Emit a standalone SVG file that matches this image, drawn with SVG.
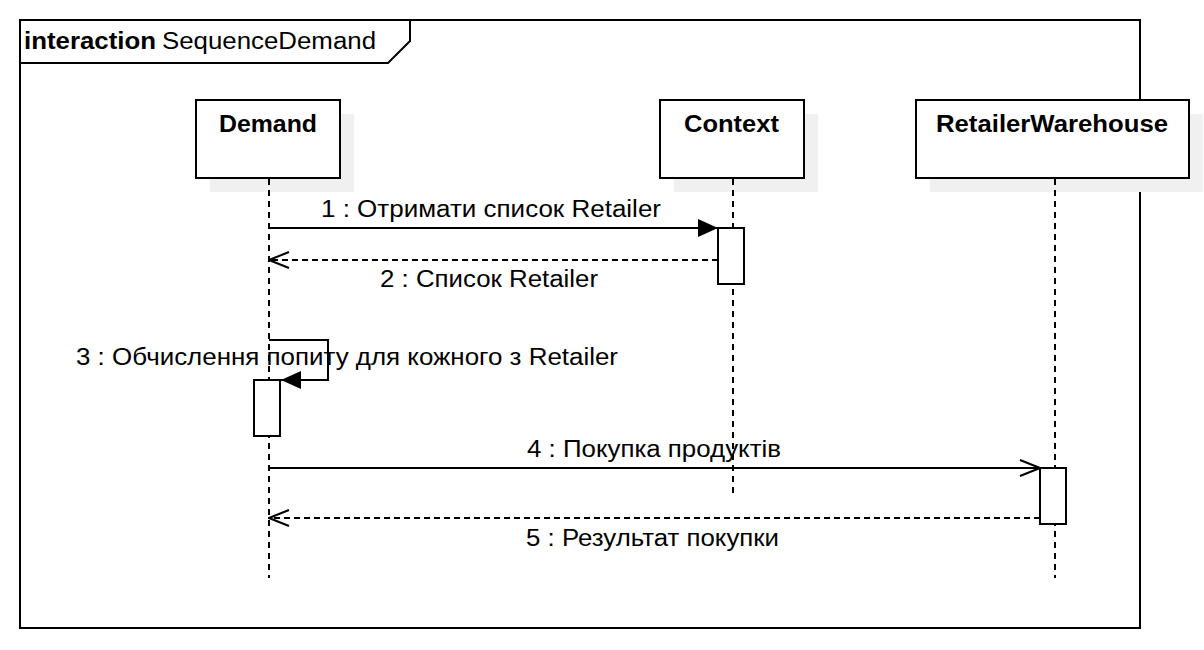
<svg xmlns="http://www.w3.org/2000/svg" width="1204" height="650" viewBox="0 0 1204 650">
  <defs>
    <style>
      text { font-family: "Liberation Sans", Arial, sans-serif; font-size: 23px; fill: #000; }
      .b { font-weight: bold; }
      .box { fill: #fff; stroke: #000; stroke-width: 2; }
      .shadow { fill: #f0f0f0; stroke: none; }
      .life { stroke: #000; stroke-width: 2; stroke-dasharray: 6 5; fill: none; }
      .msg { stroke: #000; stroke-width: 2; fill: none; }
      .ret { stroke: #000; stroke-width: 2; stroke-dasharray: 6 4; fill: none; }
    </style>
    <marker id="filled" viewBox="0 0 20 18" refX="20" refY="9" markerWidth="20" markerHeight="18" markerUnits="userSpaceOnUse" orient="auto">
      <path d="M0,0 L20,9 L0,18 Z" fill="#000"/>
    </marker>
    <marker id="open" viewBox="0 0 22 18" refX="21" refY="9" markerWidth="22" markerHeight="18" markerUnits="userSpaceOnUse" orient="auto">
      <path d="M1,1 L21,9 L1,17" fill="none" stroke="#000" stroke-width="2"/>
    </marker>
  </defs>
  <rect width="1204" height="650" fill="#fff"/>

  <g id="frame">
    <rect x="20" y="20" width="1120" height="608" fill="none" stroke="#000" stroke-width="2"/>
    <path d="M20,63 L388,63 L410,41 L410,20" fill="none" stroke="#000" stroke-width="2"/>
    <text x="24" y="49" class="b" textLength="132" lengthAdjust="spacingAndGlyphs">interaction</text>
    <text x="162" y="49" textLength="214" lengthAdjust="spacingAndGlyphs">SequenceDemand</text>
  </g>

  <g id="node-demand">
    <rect class="shadow" x="210" y="114" width="144" height="78"/>
    <rect class="box" x="196" y="100" width="144" height="78"/>
    <text x="219" y="132" class="b" textLength="98" lengthAdjust="spacingAndGlyphs">Demand</text>
  </g>
  <g id="node-context">
    <rect class="shadow" x="674" y="114" width="144" height="78"/>
    <rect class="box" x="660" y="100" width="144" height="78"/>
    <text x="684" y="132" class="b" textLength="95" lengthAdjust="spacingAndGlyphs">Context</text>
  </g>
  <g id="node-retailerwarehouse">
    <rect class="shadow" x="930" y="114" width="273" height="78"/>
    <rect class="box" x="916" y="100" width="273" height="78"/>
    <text x="936" y="132" class="b" textLength="232" lengthAdjust="spacingAndGlyphs">RetailerWarehouse</text>
  </g>

  <g id="lifelines">
    <line class="life" x1="269" y1="179" x2="269" y2="578"/>
    <line class="life" x1="733" y1="179" x2="733" y2="498"/>
    <line class="life" x1="1055" y1="179" x2="1055" y2="578"/>
  </g>

  <g id="activations">
    <rect class="box" x="718" y="228" width="26" height="56"/>
    <rect class="box" x="254" y="380" width="26" height="56"/>
    <rect class="box" x="1040" y="468" width="26" height="56"/>
  </g>

  <g id="connectors">
    <line class="msg" x1="269" y1="228" x2="718" y2="228" marker-end="url(#filled)"/>
    <line class="ret" x1="718" y1="260" x2="269" y2="260" marker-end="url(#open)"/>
    <path class="msg" d="M269,340 L328,340 L328,380 L281,380" marker-end="url(#filled)"/>
    <line class="msg" x1="269" y1="468" x2="1040" y2="468" marker-end="url(#open)"/>
    <line class="ret" x1="1040" y1="518" x2="269" y2="518" marker-end="url(#open)"/>
  </g>

  <g id="labels">
    <text x="321" y="217" textLength="340" lengthAdjust="spacingAndGlyphs">1 : Отримати список Retailer</text>
    <text x="380" y="287" textLength="218" lengthAdjust="spacingAndGlyphs">2 : Список Retailer</text>
    <text x="76" y="365" textLength="542" lengthAdjust="spacingAndGlyphs">3 : Обчислення попиту для кожного з Retailer</text>
    <text x="527" y="457" textLength="254" lengthAdjust="spacingAndGlyphs">4 : Покупка продуктів</text>
    <text x="526" y="546" textLength="253" lengthAdjust="spacingAndGlyphs">5 : Результат покупки</text>
  </g>
</svg>
